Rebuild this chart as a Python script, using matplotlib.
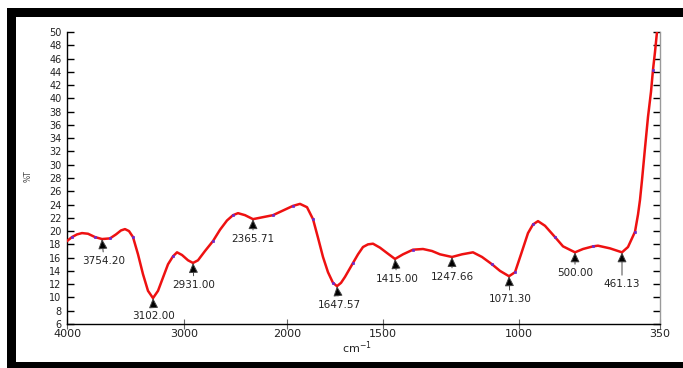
import numpy as np
import matplotlib
matplotlib.use("Agg")
import matplotlib.pyplot as plt
from matplotlib.patches import Rectangle
from matplotlib.scale import FuncScale

# IR transmission spectrum (%T against wavenumber in cm-1)
wavenumber = [4000, 3964.9, 3929.8, 3894.7, 3852.5, 3803.4, 3754.2, 3651.9, 3575.2,
              3511.2, 3460.1, 3408.9, 3357.8, 3293.8, 3229.9, 3166.0, 3102.0, 3085.5,
              3069.1, 3052.6, 3036.2, 3023.0, 3006.6, 2969.3, 2931.0, 2883.9, 2817.9,
              2742.6, 2676.6, 2610.7, 2554.1, 2507.0, 2441.1, 2365.71, 2258.2, 2150.6,
              2043.0, 1957.7, 1908.4, 1859.0, 1816.7, 1781.5, 1746.3, 1711.0, 1675.8,
              1647.57, 1634.7, 1621.9, 1596.2, 1580.2, 1564.2, 1548.1, 1532.1, 1509.6,
              1471.7, 1415.0, 1391.5, 1362.2, 1332.8, 1306.4, 1282.9, 1247.66, 1216.7,
              1182.7, 1154.8, 1123.9, 1099.1, 1071.3, 1028.5, 982.1, 919.6, 875.0,
              830.3, 767.8, 678.6, 607.1, 500.0, 493.4, 485.1, 481.0, 471.1, 461.13,
              443.6, 423.1, 414.3, 408.5, 402.6, 393.9, 385.1, 376.3, 370.5, 364.6,
              358.8, 352.9]
transmittance = [18.5, 19.1, 19.5, 19.7, 19.6, 19.1, 18.8, 18.9, 19.5,
                 20.1, 20.3, 20.0, 19.1, 16.5, 13.5, 11.0, 9.9, 11.0,
                 13.0, 15.0, 16.2, 16.8, 16.4, 15.6, 15.2, 15.6, 17.0,
                 18.5, 20.2, 21.6, 22.4, 22.7, 22.4, 21.8, 22.1, 22.4,
                 23.1, 23.8, 24.1, 23.6, 21.8, 19.0, 16.1, 13.8, 12.2,
                 11.7, 12.2, 13.1, 15.2, 16.5, 17.6, 18.0, 18.1, 17.5,
                 16.7, 15.8, 16.5, 17.2, 17.3, 17.0, 16.5, 16.1, 16.5,
                 16.8, 16.1, 15.0, 14.0, 13.2, 13.8, 16.5, 19.7, 21.0,
                 21.5, 20.8, 19.1, 17.7, 16.8, 17.3, 17.7, 17.8, 17.4, 16.8,
                 17.6, 19.9, 22.5, 24.7, 27.7, 32.5, 37.2, 41.0, 44.3, 47.0,
                 50.0, 52.5]

# picked band minima
peak_wn = [3754.20, 3102.00, 2931.00, 2365.71, 1647.57, 1415.00, 1247.66, 1071.30, 500.00, 461.13]
peak_t = [18.8, 9.9, 15.2, 21.8, 11.7, 15.8, 16.1, 13.2, 16.8, 16.8]
peak_labels = ["3754.20", "3102.00", "2931.00", "2365.71", "1647.57",
               "1415.00", "1247.66", "1071.30", "500.00", "461.13"]

x_ticks = [4000, 3000, 2000, 1500, 1000, 350]
y_ticks = list(range(6, 51, 2))

# label offsets below each minimum (pixels)
label_dx = [2, 1, 1, 0, 2, 2, 0, 1, 0, 0]
label_dy = [-22, -18, -22, -20, -19, -20, -20, -23, -21, -32]

# marker positions along the trace
marker_idx = [1, 5, 7, 12, 20, 27, 30, 35, 37, 40, 44, 48, 57, 65, 68, 71, 74, 78, 83, 90]

# piecewise-linear wavenumber axis (breakpoint -> distance from the 350 end)
axis_wn = [350, 461.13, 500, 1000, 1071.30, 1247.66, 1415, 1500, 1647.57, 2000,
           2365.71, 2931, 3000, 3102, 3754.20, 4000]
axis_pos = [0, 38, 85, 141, 151, 208, 265, 277, 323, 373, 407, 467, 476, 507, 558, 593]
_wn = np.array(axis_wn, dtype=float)
_pos = np.array(axis_pos, dtype=float)


def forward(x):
    return np.interp(np.asarray(x, dtype=float), _wn, _pos)


def inverse(u):
    return np.interp(np.asarray(u, dtype=float), _pos, _wn)


W, H = 683, 368
fig = plt.figure(figsize=(W / 100, H / 100), dpi=100)
fig.patch.set_facecolor("white")


# heavy black frame
def frame_bar(x0, y0, x1, y1):
    fig.patches.append(Rectangle((x0 / W, 1 - y1 / H), (x1 - x0) / W, (y1 - y0) / H,
                                 transform=fig.transFigure, facecolor="black",
                                 edgecolor="none", zorder=0))


frame_bar(7, 8, W, 17)
frame_bar(7, 8, 16, H)
frame_bar(7, 362, W, H)

ax_l, ax_r, ax_t, ax_b = 67, 660, 32, 324
ax = fig.add_axes([ax_l / W, 1 - ax_b / H, (ax_r - ax_l) / W, (ax_b - ax_t) / H])
ax.set_xscale(FuncScale(ax, (forward, inverse)))
ax.set_xlim(4000, 350)
ax.set_ylim(6, 50)

ax.plot(wavenumber, transmittance, color="#ee1111", lw=1.8, zorder=3,
        marker="s", ms=1.5, mfc="#6a2ad0", mec="#6a2ad0", mew=0.5,
        markevery=marker_idx)

for wn, t, lab, dx, dy in zip(peak_wn, peak_t, peak_labels, label_dx, label_dy):
    ax.annotate(lab, xy=(wn, t), xytext=(dx, dy), textcoords="offset pixels",
                ha="center", va="center", fontsize=7.5, color="#222222",
                arrowprops=dict(arrowstyle="-|>,head_length=0.6,head_width=0.28",
                                mutation_scale=10, lw=0.7,
                                fc="black", ec="#444444", shrinkA=1, shrinkB=0),
                zorder=4)

ax.spines["top"].set_visible(False)
ax.spines["left"].set_color("black")
ax.spines["bottom"].set_color("black")
ax.spines["right"].set_color("#9a9a9a")
for s in ("left", "bottom", "right"):
    ax.spines[s].set_linewidth(1.0)

ax.set_xticks(x_ticks)
ax.set_xticklabels([str(v) for v in x_ticks])
ax.xaxis.set_minor_locator(matplotlib.ticker.NullLocator())
ax.tick_params(axis="x", direction="inout", length=7, width=0.8, color="#666666",
               labelsize=8, labelcolor="#222222", pad=0)
ax.set_yticks(y_ticks)
ax.set_yticklabels([str(v) for v in y_ticks])
ax.tick_params(axis="y", direction="in", length=5, width=1.0, color="black",
               labelsize=7, labelcolor="#222222", pad=4, right=True)

fig.text(357 / W, 1 - 348 / H, "cm$^{-1}$", ha="center", va="center",
         fontsize=8, color="#222222")
fig.text(28 / W, 1 - 176 / H, "%T", ha="center", va="center", rotation=90,
         fontsize=5.5, color="#444444")

fig.savefig("out.png", dpi=100, facecolor="white")
